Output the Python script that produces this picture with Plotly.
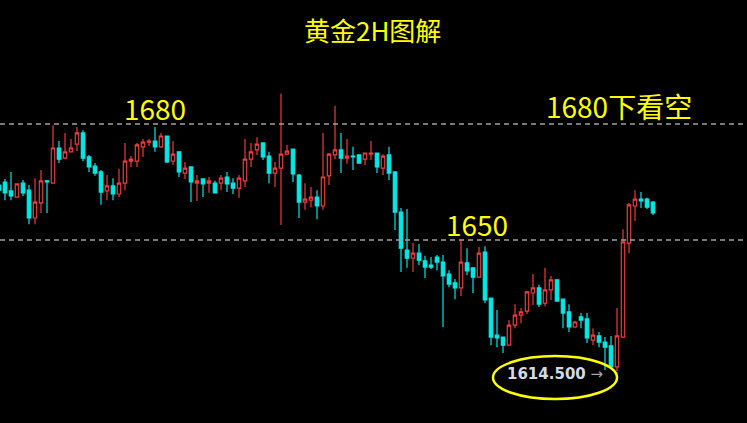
import plotly.graph_objects as go

# Candle index (2H bars)
bars = list(range(110))

opens = [1664.2, 1665.0, 1662.7, 1661.1, 1664.7, 1662.9, 1655.7, 1659.6, 1665.3, 1664.7,
         1673.8, 1671.2, 1672.8, 1674.8, 1677.7, 1671.5, 1669.1, 1667.6, 1662.7, 1664.0,
         1661.9, 1664.7, 1670.4, 1670.4, 1674.1, 1675.3, 1675.6, 1674.1, 1676.9, 1670.4,
         1672.8, 1667.3, 1668.9, 1664.7, 1665.8, 1664.7, 1664.7, 1664.7, 1666.3, 1664.7,
         1663.4, 1665.3, 1670.9, 1673.3, 1675.1, 1671.7, 1667.3, 1668.6, 1672.2, 1673.5,
         1666.8, 1659.8, 1660.3, 1661.1, 1658.8, 1666.6, 1672.0, 1673.3, 1671.2, 1671.7,
         1672.0, 1670.9, 1672.2, 1672.5, 1668.6, 1672.0, 1667.6, 1657.2, 1647.4, 1645.3,
         1646.6, 1644.6, 1643.5, 1645.6, 1644.3, 1641.2, 1638.9, 1637.6, 1644.1, 1642.8,
         1640.4, 1646.9, 1635.0, 1625.4, 1624.9, 1622.8, 1628.0, 1630.6, 1631.6, 1636.3,
         1637.6, 1633.7, 1637.1, 1639.7, 1634.7, 1631.4, 1627.5, 1630.1, 1629.6, 1624.1,
         1625.2, 1623.6, 1622.6, 1617.2, 1624.9, 1649.2, 1658.8, 1660.6, 1660.6, 1659.8]

highs = [1664.7, 1665.8, 1667.6, 1664.7, 1665.5, 1664.2, 1666.0, 1668.1, 1665.5, 1679.7,
         1675.6, 1677.7, 1676.1, 1679.2, 1678.4, 1672.0, 1669.9, 1668.1, 1666.8, 1666.0,
         1668.4, 1675.1, 1671.7, 1675.1, 1676.1, 1676.1, 1679.2, 1677.7, 1676.9, 1675.6,
         1672.8, 1670.2, 1668.9, 1666.8, 1666.0, 1666.3, 1665.3, 1666.8, 1667.6, 1666.0,
         1666.8, 1676.1, 1675.1, 1676.6, 1675.3, 1672.8, 1670.2, 1687.8, 1674.6, 1673.5,
         1667.1, 1664.7, 1663.7, 1662.9, 1677.7, 1672.5, 1684.7, 1677.7, 1676.1, 1674.1,
         1672.2, 1672.5, 1675.6, 1672.5, 1672.2, 1674.1, 1667.6, 1658.3, 1658.0, 1649.2,
         1649.0, 1645.9, 1645.6, 1646.1, 1646.1, 1642.2, 1639.9, 1650.0, 1647.9, 1642.8,
         1648.2, 1648.4, 1635.0, 1631.9, 1624.9, 1629.3, 1633.4, 1632.4, 1636.8, 1641.2,
         1638.4, 1642.8, 1640.7, 1639.7, 1634.7, 1633.4, 1629.1, 1631.1, 1631.1, 1627.2,
         1626.2, 1624.9, 1625.2, 1632.4, 1652.8, 1659.6, 1662.9, 1662.4, 1660.9, 1660.1]

lows = [1662.4, 1660.3, 1660.3, 1660.9, 1661.4, 1654.1, 1654.1, 1657.0, 1657.0, 1664.7,
        1669.9, 1670.9, 1672.8, 1673.0, 1670.4, 1667.6, 1666.6, 1659.1, 1660.3, 1660.3,
        1661.1, 1662.9, 1668.9, 1668.9, 1671.5, 1674.3, 1672.8, 1673.8, 1669.9, 1669.4,
        1666.3, 1665.8, 1659.8, 1660.1, 1661.1, 1662.2, 1662.2, 1662.9, 1662.4, 1661.9,
        1660.9, 1663.7, 1668.9, 1672.0, 1670.7, 1664.7, 1663.7, 1653.9, 1672.0, 1665.0,
        1655.7, 1657.8, 1658.5, 1655.4, 1657.8, 1664.2, 1670.9, 1667.3, 1669.7, 1668.1,
        1669.7, 1669.4, 1670.7, 1667.3, 1666.8, 1665.5, 1652.6, 1641.7, 1642.8, 1641.7,
        1643.5, 1640.2, 1642.5, 1642.2, 1627.5, 1637.8, 1634.7, 1635.5, 1640.9, 1636.3,
        1640.4, 1633.7, 1622.8, 1622.3, 1620.8, 1622.8, 1627.2, 1628.5, 1630.9, 1633.2,
        1632.7, 1632.9, 1634.5, 1634.2, 1627.2, 1626.2, 1627.2, 1627.2, 1623.4, 1622.8,
        1622.3, 1616.4, 1617.2, 1616.1, 1624.9, 1646.6, 1654.9, 1658.3, 1658.0, 1656.5]

closes = [1662.9, 1662.2, 1661.4, 1664.5, 1662.2, 1655.7, 1659.8, 1665.3, 1665.0, 1673.8,
          1670.9, 1672.8, 1673.8, 1677.7, 1671.2, 1668.9, 1667.3, 1662.4, 1664.0, 1661.9,
          1664.7, 1670.4, 1670.9, 1674.6, 1675.3, 1675.6, 1674.1, 1676.9, 1670.2, 1672.2,
          1667.6, 1668.6, 1665.0, 1665.3, 1664.5, 1665.3, 1662.2, 1666.0, 1664.5, 1663.4,
          1666.0, 1670.9, 1672.8, 1674.8, 1671.5, 1667.3, 1668.6, 1672.2, 1673.0, 1667.1,
          1659.8, 1660.6, 1661.1, 1658.8, 1666.3, 1672.2, 1673.3, 1671.2, 1671.7, 1671.5,
          1669.9, 1672.5, 1672.5, 1668.9, 1671.7, 1667.3, 1657.2, 1647.9, 1645.3, 1646.6,
          1644.8, 1643.0, 1643.0, 1644.3, 1640.7, 1638.6, 1637.6, 1644.3, 1642.0, 1640.4,
          1646.6, 1634.5, 1624.9, 1624.7, 1622.8, 1628.0, 1630.6, 1631.4, 1636.6, 1637.6,
          1633.4, 1637.1, 1639.7, 1634.2, 1631.1, 1627.5, 1628.8, 1629.3, 1624.7, 1625.4,
          1623.6, 1622.3, 1617.2, 1625.2, 1649.5, 1659.1, 1660.6, 1660.1, 1658.5, 1657.0]

levels = [1680, 1650]
title_text = "黄金2H图解"
level_labels = ["1680", "1650"]
view_text = "1680下看空"
low_label = "1614.500"

RED = "#ec3b3b"
CYAN = "#00e8e8"
YEL = "#ffff00"

fig = go.Figure()
fig.add_trace(go.Candlestick(
    x=bars, open=opens, high=highs, low=lows, close=closes,
    increasing=dict(line=dict(color=RED, width=1.2), fillcolor="#000000"),
    decreasing=dict(line=dict(color=CYAN, width=1.2), fillcolor=CYAN),
    hoverinfo="skip", showlegend=False,
))

for lv in levels:
    fig.add_shape(type="line", xref="paper", x0=0, x1=1, yref="y", y0=lv, y1=lv,
                  line=dict(color="#a0a0a0", width=1.5, dash="5px,4px"), layer="above")

# yellow ellipse around the low label
fig.add_shape(type="circle", xref="paper", yref="paper",
              x0=0.660, x1=0.826, y0=0.0567, y1=0.1584,
              line=dict(color=YEL, width=2.5))

cjk = "Noto Sans CJK SC"
fig.add_annotation(text=title_text, xref="paper", yref="paper", x=0.498, y=0.930,
                   showarrow=False, font=dict(family=cjk, size=26, color=YEL),
                   xanchor="center", yanchor="middle")
fig.add_annotation(text=level_labels[0], xref="paper", yref="paper", x=0.2075, y=0.7435,
                   showarrow=False, font=dict(family=cjk, size=28, color=YEL),
                   xanchor="center", yanchor="middle")
fig.add_annotation(text=view_text, xref="paper", yref="paper", x=0.8287, y=0.7494,
                   showarrow=False, font=dict(family=cjk, size=28, color=YEL),
                   xanchor="center", yanchor="middle")
fig.add_annotation(text=level_labels[1], xref="paper", yref="paper", x=0.638, y=0.4716,
                   showarrow=False, font=dict(family=cjk, size=28, color=YEL),
                   xanchor="center", yanchor="middle")
fig.add_annotation(text="<b>" + low_label + "</b> <span style='color:#a8a8a8'>→</span>",
                   xref="paper", yref="paper", x=0.7435, y=0.116,
                   showarrow=False, font=dict(family="DejaVu Sans", size=15, color="#d4d9e6"),
                   xanchor="center", yanchor="middle")

fig.update_layout(
    width=747, height=423,
    margin=dict(l=0, r=0, t=0, b=0),
    paper_bgcolor="#000000", plot_bgcolor="#000000",
    xaxis=dict(visible=False, range=[0.1667, 124.667], rangeslider=dict(visible=False)),
    yaxis=dict(visible=False, range=[1602.68, 1712.07]),
    boxgap=0.18,
    showlegend=False,
)

fig.write_html("out.html", config={"displayModeBar": False},
               post_script="document.body.style.margin='0';document.body.style.background='#000';")
